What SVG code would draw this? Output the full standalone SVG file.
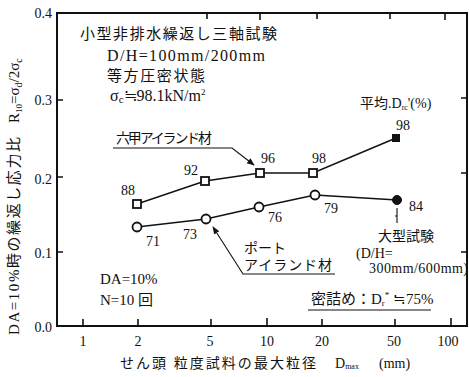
<svg xmlns="http://www.w3.org/2000/svg" width="469" height="377" viewBox="0 0 469 377">
<defs>
<style>
.t{font-family:"Liberation Serif","Noto Sans CJK JP",serif;fill:#111;}
.ax{stroke:#111;stroke-width:2;fill:none;}
.tk{stroke:#111;stroke-width:1.6;fill:none;}
.ln{stroke:#111;stroke-width:1.4;fill:none;}
.ld{stroke:#111;stroke-width:1.1;fill:none;}
.os{fill:#fff;stroke:#111;stroke-width:1.8;}
.fs{fill:#111;stroke:#111;stroke-width:1;}
</style>
<marker id="ah" viewBox="0 0 10 10" refX="9" refY="5" markerWidth="7" markerHeight="7" orient="auto">
<path d="M0,1 L10,5 L0,9 Z" fill="#111"/>
</marker>
</defs>
<rect width="469" height="377" fill="#fff"/>

<g id="axes">
<path class="ax" d="M57,13 H467 V326 H57 Z"/>
<path class="tk" d="M83,326 v-7 M138,326 v-7 M211,326 v-7 M267,326 v-8 M322,326 v-7 M395,326 v-7 M451,326 v-8"/>
<path class="tk" d="M207,13 v6 M260,13 v7 M317,13 v6 M390,13 v6 M445,13 v7"/>
<path class="tk" d="M57,252 h6 M57,177 h6 M57,100 h6"/>
<path class="tk" d="M467,98 h-6 M467,173 h-6 M467,252 h-6"/>
<g class="t" font-size="14" text-anchor="end">
<text x="52" y="18">0.4</text>
<text x="52" y="105">0.3</text>
<text x="52" y="184">0.2</text>
<text x="52" y="258">0.1</text>
<text x="52" y="332">0.0</text>
</g>
<g class="t" font-size="14" text-anchor="middle">
<text x="83" y="346">1</text>
<text x="138" y="346">2</text>
<text x="210" y="346">5</text>
<text x="267" y="346">10</text>
<text x="322" y="346">20</text>
<text x="394" y="346">50</text>
<text x="448" y="346">100</text>
</g>
</g>

<g id="x-axis-label">
<text class="t" font-size="14" x="120" y="368"><tspan textLength="196" lengthAdjust="spacing">せん頭 粒度試料の最大粒径</tspan><tspan x="335">D</tspan><tspan font-size="8" dy="1">max</tspan><tspan x="379" dy="-1">(mm)</tspan></text>
</g>

<g id="y-axis-label">
<text class="t" font-size="15" transform="translate(19,335) rotate(-90)"><tspan textLength="198" lengthAdjust="spacing">DA=10%時の繰返し応力比</tspan><tspan x="212">R</tspan><tspan font-size="9" dy="3">10</tspan><tspan dy="-3">=σ</tspan><tspan font-size="10" dy="3">d</tspan><tspan dy="-3">/2σ</tspan><tspan font-size="10" dy="3">c</tspan></text>
</g>

<g id="conditions">
<text class="t" font-size="15" x="80" y="39" textLength="197" lengthAdjust="spacing">小型非排水繰返し三軸試験</text>
<text class="t" font-size="16" x="107" y="61" textLength="158" lengthAdjust="spacing">D/H=100mm/200mm</text>
<text class="t" font-size="15" x="107" y="81" textLength="98" lengthAdjust="spacing">等方圧密状態</text>
<text class="t" font-size="16" x="110" y="101">σ<tspan font-size="11" dy="2">c</tspan><tspan dy="-2">≒98.1kN/m</tspan><tspan font-size="9" dy="-6">2</tspan></text>
</g>

<g id="connectors">
<polyline class="ln" points="137,204 205,181 260,173 313,173 396,138"/>
<polyline class="ln" points="137,227 206,219 259,207 315,195 397,200"/>
<polyline class="ld" points="113,148 232,148 254,165" marker-end="url(#ah)"/>
<polyline class="ld" points="335,274 243,274 213,227" marker-end="url(#ah)"/>
<path class="ld" d="M397,208 V223 M395,216 h2"/>
</g>

<g id="rokko-series">
<rect class="os" x="133" y="200" width="8" height="8"/>
<rect class="os" x="201" y="177" width="8" height="8"/>
<rect class="os" x="256" y="169" width="8" height="8"/>
<rect class="os" x="309" y="169" width="8" height="8"/>
<rect class="fs" x="392.5" y="134.5" width="7" height="7"/>
<g class="t" font-size="14" text-anchor="middle">
<text x="128" y="195">88</text>
<text x="191" y="175">92</text>
<text x="268" y="163">96</text>
<text x="319" y="163">98</text>
<text x="403" y="130">98</text>
</g>
</g>

<g id="port-series">
<circle class="os" cx="137" cy="227" r="4.5"/>
<circle class="os" cx="206" cy="219" r="4.5"/>
<circle class="os" cx="259" cy="207" r="4.5"/>
<circle class="os" cx="315" cy="195" r="4.5"/>
<circle class="fs" cx="397" cy="200" r="4.5"/>
<g class="t" font-size="14" text-anchor="middle">
<text x="153" y="246">71</text>
<text x="190" y="239">73</text>
<text x="275" y="222">76</text>
<text x="331" y="213">79</text>
<text x="416" y="211">84</text>
</g>
</g>

<g id="label-rokko">
<text class="t" font-size="14" x="116" y="143" textLength="96" lengthAdjust="spacing">六甲アイランド材</text>
</g>

<g id="label-port">
<text class="t" font-size="14" x="244" y="253">ポート</text>
<text class="t" font-size="14" x="244" y="270" textLength="88" lengthAdjust="spacing">アイランド材</text>
</g>

<g id="label-large">
<text class="t" font-size="14" x="378" y="241">大型試験</text>
<text class="t" font-size="14" x="356" y="258">(D/H=</text>
<text class="t" font-size="14" x="369" y="273" textLength="99" lengthAdjust="spacing">300mm/600mm)</text>
</g>

<g id="label-average">
<text class="t" font-size="14" x="360" y="108">平均.D<tspan font-size="8" dy="2">rc</tspan><tspan dy="-2">'(%)</tspan></text>
</g>

<g id="label-da">
<text class="t" font-size="15" x="100" y="284">DA=10%</text>
<text class="t" font-size="15" x="100" y="305">N=10 回</text>
</g>

<g id="label-dense">
<text class="t" font-size="15" x="311" y="304">密詰め：D<tspan font-size="9" dy="2">r</tspan><tspan font-size="9" dy="-8">*</tspan><tspan dy="6"> ≒75%</tspan></text>
<line class="ld" x1="308" y1="310" x2="431" y2="310"/>
</g>
</svg>
